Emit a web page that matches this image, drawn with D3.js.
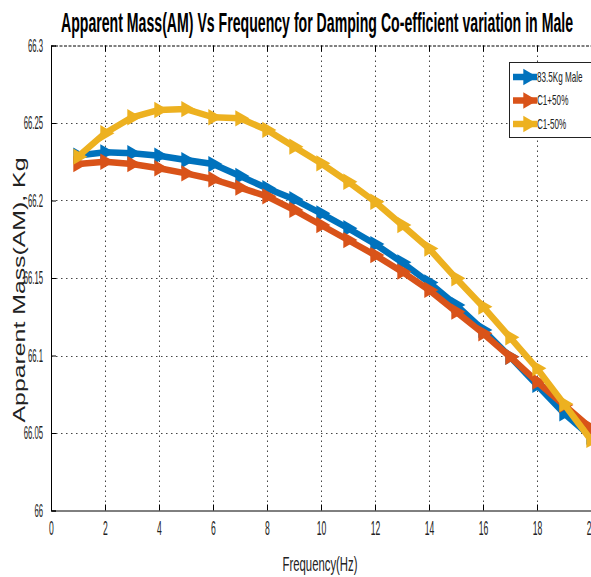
<!DOCTYPE html>
<html>
<head>
<meta charset="utf-8">
<script src="https://cdn.jsdelivr.net/npm/d3@7"></script>
<style>
  body { margin: 0; background: #fff; }
  svg { display: block; }
  text { font-family: 'Liberation Sans', Arial, sans-serif; }
</style>
</head>
<body>
<div id="container"></div>
<script>
const freq = d3.range(1, 21);

const seriesNames = ['83.5Kg Male', 'C1+50%', 'C1-50%'];
const seriesColors = ['#0072BD', '#D95319', '#EDB120'];

const male = [66.2290, 66.2311, 66.2305, 66.2289, 66.2261, 66.2235, 66.2158, 66.2079, 66.2008, 66.1917,
  66.1821, 66.1719, 66.1601, 66.1471, 66.1326, 66.1165, 66.0992, 66.0810, 66.0627, 66.0476];
const c1Plus = [66.2235, 66.2250, 66.2235, 66.2208, 66.2175, 66.2137, 66.2083, 66.2027, 66.1939, 66.1842,
  66.1745, 66.1648, 66.1541, 66.1423, 66.1283, 66.1143, 66.0992, 66.0831, 66.0681, 66.0530];
const c1Minus = [66.2283, 66.2434, 66.2537, 66.2584, 66.2590, 66.2537, 66.2530, 66.2455, 66.2347, 66.2240,
  66.2121, 66.1992, 66.1842, 66.1690, 66.1498, 66.1315, 66.1117, 66.0917, 66.0687, 66.0455];

const xTicks = d3.range(0, 21, 2);
const yTicks = [66, 66.05, 66.1, 66.15, 66.2, 66.25, 66.3];

const svgWidth = 591;
const svgHeight = 577;
const plotLeft = 51;
const plotRight = 591;
const plotTop = 45.5;
const plotBottom = 510.5;

// the reference text is tall and very narrow
const squeeze = 0.43;

const svg = d3
  .select('#container')
  .append('svg')
  .attr('width', svgWidth)
  .attr('height', svgHeight);

const xScale = d3.scaleLinear().domain([0, 20]).range([plotLeft, plotRight]);
const yScale = d3.scaleLinear().domain([66, 66.3]).range([plotBottom, plotTop]);

// GRID
const grid = svg.append('g').attr('stroke', '#444').attr('stroke-width', 1).attr('stroke-dasharray', '1.5,3.5');
grid
  .selectAll('.vgrid')
  .data(xTicks.slice(1))
  .enter()
  .append('line')
  .attr('x1', d => Math.round(xScale(d)) + 0.5)
  .attr('x2', d => Math.round(xScale(d)) + 0.5)
  .attr('y1', plotTop)
  .attr('y2', plotBottom);
grid
  .selectAll('.hgrid')
  .data(yTicks.slice(1, -1))
  .enter()
  .append('line')
  .attr('x1', plotLeft)
  .attr('x2', plotRight)
  .attr('y1', d => Math.round(yScale(d)) + 0.5)
  .attr('y2', d => Math.round(yScale(d)) + 0.5);

// AXES
const xAxis = d3.axisBottom(xScale).tickValues(xTicks).tickSize(-6).tickPadding(10).tickFormat(d3.format('d'));
const yAxis = d3.axisLeft(yScale).tickValues(yTicks).tickSize(-5).tickPadding(8).tickFormat(d => String(+d.toFixed(2)));
const xTop = d3.axisTop(xScale).tickValues(xTicks).tickSize(-6).tickFormat('');

const gx = svg.append('g').attr('transform', `translate(0, ${plotBottom})`).call(xAxis);
const gy = svg.append('g').attr('transform', `translate(${plotLeft}, 0)`).call(yAxis);
const gt = svg.append('g').attr('transform', `translate(0, ${plotTop})`).call(xTop);
[gx, gy, gt].forEach(g => {
  g.select('.domain').attr('stroke', '#000');
  g.selectAll('.tick line').attr('stroke', '#000');
});
gt.select('.domain').attr('stroke-dasharray', '3,1.5');

gx.selectAll('.tick text')
  .attr('font-size', 20)
  .attr('fill', '#222')
  .attr('transform', `scale(${squeeze},1)`);
gy.selectAll('.tick text')
  .attr('font-size', 18)
  .attr('fill', '#222')
  .attr('x', -8 / squeeze)
  .attr('transform', `scale(${squeeze},1)`);

// LINES
const allSeries = [male, c1Plus, c1Minus];
const line = d3
  .line()
  .x((d, i) => xScale(freq[i]))
  .y(d => yScale(d));

const tri = d3.symbol().type(d3.symbolTriangle).size(115);

allSeries.forEach((values, s) => {
  const g = svg.append('g');
  g.append('path')
    .datum(values)
    .attr('d', line)
    .attr('fill', 'none')
    .attr('stroke', seriesColors[s])
    .attr('stroke-width', 6.5)
    .attr('stroke-linejoin', 'round');
  g.selectAll('path.mk')
    .data(values)
    .enter()
    .append('path')
    .attr('class', 'mk')
    .attr('d', tri)
    .attr('fill', seriesColors[s])
    .attr('transform', (d, i) => `translate(${xScale(freq[i])}, ${yScale(d)}) rotate(90)`);
});

// TITLE
svg
  .append('text')
  .attr('x', 317)
  .attr('y', 32)
  .attr('text-anchor', 'middle')
  .attr('font-size', 28)
  .attr('font-weight', 'bold')
  .attr('textLength', 512)
  .attr('lengthAdjust', 'spacingAndGlyphs')
  .text('Apparent Mass(AM) Vs Frequency for Damping Co-efficient variation in Male');

svg
  .append('text')
  .attr('x', 320)
  .attr('y', 571)
  .attr('text-anchor', 'middle')
  .attr('font-size', 21)
  .attr('fill', '#222')
  .attr('textLength', 75)
  .attr('lengthAdjust', 'spacingAndGlyphs')
  .text('Frequency(Hz)');

svg
  .append('text')
  .attr('transform', 'translate(25, 290) rotate(-90)')
  .attr('text-anchor', 'middle')
  .attr('font-size', 17)
  .attr('fill', '#222')
  .attr('textLength', 265)
  .attr('lengthAdjust', 'spacingAndGlyphs')
  .text('Apparent Mass(AM), Kg');

// LEGEND
const legend = svg.append('g').attr('transform', 'translate(509, 62)');
legend
  .append('rect')
  .attr('x', 0.5)
  .attr('y', 0.5)
  .attr('width', 90)
  .attr('height', 75)
  .attr('fill', '#fff')
  .attr('stroke', '#222');

seriesNames.forEach((name, i) => {
  const yy = 15 + i * 23.5;
  legend.append('line')
    .attr('x1', 4)
    .attr('x2', 28)
    .attr('y1', yy)
    .attr('y2', yy)
    .attr('stroke', seriesColors[i])
    .attr('stroke-width', 6.5);
  legend.append('path')
    .attr('d', tri)
    .attr('fill', seriesColors[i])
    .attr('transform', `translate(19, ${yy}) rotate(90)`);
  legend.append('text')
    .attr('x', 28 / 0.58)
    .attr('y', yy + 5)
    .attr('font-size', 14)
    .attr('fill', '#222')
    .attr('transform', 'scale(0.58,1)')
    .text(name);
});
</script>
</body>
</html>
